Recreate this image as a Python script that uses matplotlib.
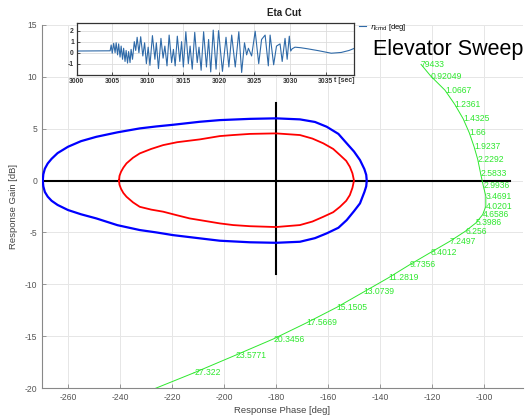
import matplotlib
matplotlib.use("Agg")
import matplotlib.pyplot as plt

plt.rcParams['font.family'] = ['Liberation Sans', 'DejaVu Sans']
plt.rcParams['axes.unicode_minus'] = False

# ---------------- data ----------------
# outer (blue) loop: phase [deg], gain [dB]
blue_phase = [-269.7, -269.5, -268.9, -267.8, -266.3, -264.0, -260.0, -255.0, -249.1, -241.0,
              -232.4, -226.0, -219.6, -209.3, -201.6, -190.0, -180.0, -170.8, -165.0, -160.5,
              -156.0, -152.8, -150.0, -147.7, -146.0, -145.3, -145.1,
              -145.3, -146.0, -147.7, -150.0, -152.8, -156.0, -160.5, -165.0, -170.8, -180.0,
              -190.0, -201.6, -209.3, -219.6, -226.0, -232.4, -241.0, -249.1, -255.0, -260.0,
              -264.0, -266.3, -267.8, -268.9, -269.5, -269.7]
blue_gain = [0.0, 0.6, 1.15, 1.65, 2.1, 2.65, 3.26, 3.8, 4.22, 4.65,
             5.03, 5.22, 5.38, 5.67, 5.83, 5.95, 6.0, 5.9, 5.65, 5.19,
             4.5, 3.59, 2.8, 1.98, 1.1, 0.55, 0.0,
             -0.55, -1.1, -2.2, -2.95, -3.81, -4.55, -5.09, -5.55, -5.9, -6.0,
             -5.95, -5.8, -5.57, -5.26, -5.0, -4.77, -4.3, -3.65, -3.25, -2.84,
             -2.35, -1.95, -1.55, -1.1, -0.55, 0.0]

# inner (red) loop
red_phase = [-240.4, -240.2, -239.6, -238.7, -237.5, -235.0, -232.4, -228.0, -223.4, -218.0,
             -213.2, -209.3, -201.6, -196.5, -190.0, -180.0, -170.8, -166.0, -161.8, -158.0,
             -155.4, -153.0, -151.6, -150.6, -150.0,
             -150.6, -151.6, -153.0, -155.4, -158.0, -161.8, -166.0, -170.8, -180.0, -190.0,
             -196.5, -201.6, -209.3, -213.2, -218.0, -223.4, -228.0, -232.4, -235.0, -237.5,
             -238.7, -239.6, -240.2, -240.4]
red_gain = [0.0, 0.45, 0.85, 1.25, 1.66, 2.2, 2.62, 3.05, 3.42, 3.7,
            3.85, 3.97, 4.29, 4.39, 4.5, 4.55, 4.39, 4.05, 3.59, 3.05,
            2.46, 1.9, 1.33, 0.7, 0.0,
            -0.7, -1.4, -1.95, -2.53, -3.05, -3.49, -3.95, -4.29, -4.48, -4.4,
            -4.29, -4.13, -3.81, -3.65, -3.35, -3.0, -2.8, -2.53, -2.1, -1.56,
            -1.2, -0.8, -0.4, 0.0]

# black cross
hline_phase = [-270, -90]
hline_gain = [0, 0]
vline_phase = [-180, -180]
vline_gain = [-9, 7.5]

# green sweep curve
sweep_labels = ['79433', '0.92049', '1.0667', '1.2361', '1.4325', '1.66', '1.9237', '2.2292',
                '2.5833', '2.9936', '3.4691', '4.0201', '4.6586', '5.3986', '6.256', '7.2497',
                '8.4012', '9.7356', '11.2819', '13.0739', '15.1505', '17.5669', '20.3456',
                '23.5771', '27.322']
sweep_phase = [-124.2, -120.5, -115.0, -111.2, -108.0, -105.65, -103.8, -102.4, -101.3, -100.3,
               -99.3, -99.3, -100.5, -103.1, -107.2, -113.1, -120.4, -128.5, -136.8, -146.2,
               -156.7, -168.2, -181.1, -195.5, -211.5]
sweep_gain = [11.2, 10.08, 8.71, 7.33, 5.95, 4.60, 3.25, 2.03, 0.675, -0.48,
              -1.51, -2.48, -3.28, -4.08, -4.89, -5.85, -6.91, -8.10, -9.38, -10.73,
              -12.23, -13.71, -15.28, -16.83, -18.53]
sweep_tail_phase = [-211.5, -229.0]
sweep_tail_gain = [-18.53, -20.3]

xticks = [-260, -240, -220, -200, -180, -160, -140, -120, -100]
yticks = [-20, -15, -10, -5, 0, 5, 10, 15]

# inset time history (extrema)
eta_t = [3000.0, 3004.7,
         3004.85, 3005.0, 3005.2, 3005.4, 3005.55, 3005.75, 3005.9, 3006.1, 3006.25, 3006.45,
         3006.6, 3006.8, 3006.95, 3007.15, 3007.3, 3007.5, 3007.65, 3007.85,
         3008.1, 3008.3, 3008.5, 3008.75, 3009.0, 3009.3, 3009.55, 3009.8,
         3010.05, 3010.3, 3010.65, 3011.0, 3011.2, 3011.5, 3011.85, 3012.15, 3012.4, 3012.7,
         3013.0, 3013.35, 3013.6, 3013.85, 3014.15, 3014.5, 3014.75, 3015.0, 3015.35, 3015.7,
         3015.95, 3016.25, 3016.6, 3016.95, 3017.2, 3017.5, 3017.85, 3018.25, 3018.55, 3018.85,
         3019.2, 3019.6, 3019.95, 3020.5, 3021.0, 3021.4, 3021.8, 3022.3, 3022.8, 3023.2,
         3023.6, 3023.9, 3024.15, 3024.6, 3025.1, 3025.6, 3026.0, 3026.5, 3026.95, 3027.2,
         3027.7, 3028.1, 3028.6, 3028.9, 3029.3, 3029.6, 3029.9,
         3030.1, 3030.3, 3030.7, 3031.5, 3032.5, 3034.0, 3035.8, 3037.2, 3038.3, 3039.0]
eta_v = [0.15, 0.17,
         0.7, -0.05, 0.85, 0.0, 0.9, -0.2, 0.8, -0.4, 0.6, -0.6,
         0.4, -0.8, 0.2, -0.95, 0.1, -0.9, 0.3, -0.6,
         1.0, 0.2, 1.4, 0.0, 1.45, -0.3, 0.9, -1.0,
         0.5, -1.15, 1.55, -0.6, 0.9, -1.45, 1.3, -0.5, 0.6, -1.2,
         1.6, -0.9, 0.3, -1.2, 1.5, -0.8, 1.0, -1.3, 1.9, -1.0,
         0.6, -1.5, 1.85, -0.9, 0.5, -1.6, 1.9, -1.3, 1.2, -1.75,
         2.05, -1.5, 2.0, -1.7, 1.4, -1.3, 1.6, -1.3, 1.9, -1.8,
         0.9, -0.2, 0.4, -0.3, 1.95, -1.0, 1.2, 1.6, -1.2, 1.6,
         -1.1, 0.6, 0.8, -0.8, 1.3, -0.6, 1.5,
         0.15, 0.35, 0.5, 0.45, 0.35, 0.18, -0.05, 0.02, 0.2, 0.38]
inset_xticks = [3000, 3005, 3010, 3015, 3020, 3025, 3030, 3035]
inset_yticks = [-1, 0, 1, 2]

# ---------------- figure ----------------
fig = plt.figure(figsize=(5.29, 4.17), dpi=100)
ax = fig.add_axes([42 / 529, 1 - 388 / 417, (523 - 42) / 529, (388 - 25) / 417])

tick_col = '#555555'
ax.set_xlim(-270, -85)
ax.set_ylim(-20, 15)
ax.set_xticks(xticks)
ax.set_yticks(yticks)
ax.grid(True, color='#e6e6e6', linewidth=0.7)
ax.set_axisbelow(True)
for s in ['top', 'right']:
    ax.spines[s].set_visible(False)
for s in ['left', 'bottom']:
    ax.spines[s].set_color('#888888')
    ax.spines[s].set_linewidth(0.8)
ax.tick_params(direction='in', length=3, width=0.6, colors='#888888',
               labelcolor=tick_col, labelsize=6.2)
ax.set_xlabel('Response Phase [deg]', fontsize=6.8, color='#444444', labelpad=3)
ax.set_ylabel('Response Gain [dB]', fontsize=6.8, color='#444444')
ax.yaxis.set_label_coords(-0.05, 0.5)

ax.plot(hline_phase, hline_gain, color='black', lw=1.5, zorder=3)
ax.plot(vline_phase, vline_gain, color='black', lw=1.5, zorder=3)
ax.plot(blue_phase, blue_gain, color='#0000ff', lw=1.6, zorder=4)
ax.plot(red_phase, red_gain, color='#ff0000', lw=1.3, zorder=4)

green = '#2ee82e'
ax.plot(sweep_phase, sweep_gain, color=green, lw=0.7, zorder=5)
ax.plot(sweep_tail_phase, sweep_tail_gain, color=green, lw=0.7, zorder=5)
for p, g, lab in zip(sweep_phase, sweep_gain, sweep_labels):
    ax.text(p, g, lab, color=green, fontsize=6.2, ha='left', va='center', zorder=6)

fig.text(373 / 529, 1 - 50 / 417, 'Elevator Sweep', fontsize=15.5, color='black',
         ha='left', va='center')

# ---------------- inset ----------------
axi = fig.add_axes([76.7 / 529, 1 - 75 / 417, (354 - 76.7) / 529, (75 - 23.3) / 417])
axi.set_facecolor('white')
axi.plot(eta_t, eta_v, color='#2f6aa8', lw=0.8, label=r'$\eta_{\mathrm{cmd}}$ [deg]')
axi.set_xlim(3000, 3039)
axi.set_ylim(-2.03, 2.67)
axi.set_xticks(inset_xticks)
axi.set_yticks(inset_yticks)
axi.grid(True, color='#dddddd', linewidth=0.6)
axi.set_axisbelow(True)
for s in axi.spines.values():
    s.set_color('#333333')
    s.set_linewidth(0.9)
axi.tick_params(direction='in', length=2.5, width=0.6, colors='#333333', labelsize=4.9, pad=2)
for lab in axi.get_xticklabels() + axi.get_yticklabels():
    lab.set_fontweight('bold')
leg = axi.legend(loc='upper left', bbox_to_anchor=(1.0, 1.12), frameon=False, fontsize=5.4,
                 handlelength=1.0, handletextpad=0.5, borderaxespad=0.2)
fig.text(284 / 529, 1 - 13 / 417, 'Eta Cut', fontsize=7, fontweight='bold',
         ha='center', va='center', color='#222222')
fig.text(334 / 529, 1 - 81 / 417, 't [sec]', fontsize=5.0, fontweight='bold',
         ha='left', va='center', color='#333333')

fig.savefig('out.png', dpi=100)
